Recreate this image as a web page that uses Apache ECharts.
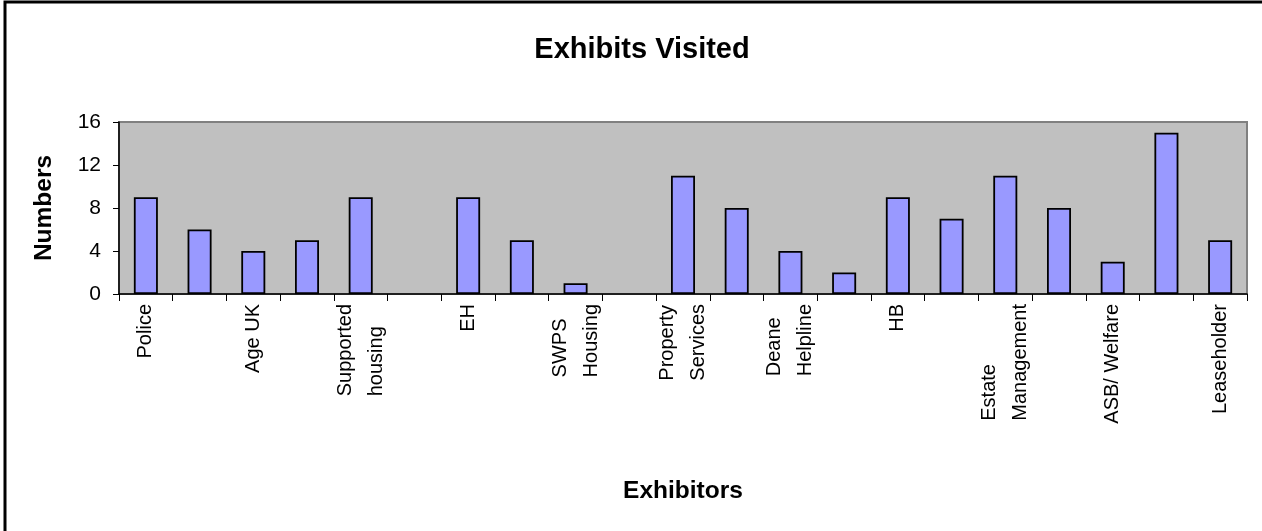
<!DOCTYPE html>
<html>
<head>
<meta charset="utf-8">
<script src="https://cdn.jsdelivr.net/npm/echarts@6/dist/echarts.min.js"></script>
<style>html,body{margin:0;padding:0;background:#fff;}#c{width:1262px;height:531px;}</style>
</head>
<body>
<div id="c"></div>
<script>
const titleText = 'Exhibits Visited';
const yAxisTitle = 'Numbers';
const xAxisTitle = 'Exhibitors';
const categories = ['Police', '', 'Age UK', '', 'Supported\nhousing', '', 'EH', '', 'SWPS\nHousing', '',
  'Property\nServices', '', 'Deane\nHelpline', '', 'HB', '', 'Estate\nManagement', '', 'ASB/ Welfare', '', 'Leaseholder'];
const values = [9, 6, 4, 5, 9, null, 9, 5, 1, null, 11, 8, 4, 2, 9, 7, 11, 8, 3, 15, 5];
const yTicks = [0, 4, 8, 12, 16];

const FONT = "'Liberation Sans', Arial, sans-serif";
const chart = echarts.init(document.getElementById('c'), null, {renderer: 'canvas'});
chart.setOption({
  animation: false,
  backgroundColor: '#fff',
  title: {
    text: titleText, left: 637, top: 30, textAlign: 'center',
    textStyle: {fontFamily: FONT, fontSize: 29, fontWeight: 'bold', color: '#000'}
  },
  graphic: [{
    type: 'rect', shape: {x: 5, y: 2, width: 1300, height: 600},
    style: {fill: 'none', stroke: '#000', lineWidth: 3}, silent: true, z: 100
  }],
  grid: {
    left: 119, right: 15, top: 122, bottom: 237,
    show: true, backgroundColor: '#C0C0C0', borderColor: '#808080', borderWidth: 2
  },
  xAxis: {
    type: 'category', data: categories, boundaryGap: true,
    name: xAxisTitle, nameLocation: 'middle', nameGap: 185,
    nameTextStyle: {fontFamily: FONT, fontSize: 24.5, fontWeight: 'bold', color: '#000'},
    axisLine: {show: true, lineStyle: {color: '#000', width: 1.5}},
    axisTick: {show: true, interval: 0, length: 7, lineStyle: {color: '#000', width: 1}},
    axisLabel: {
      interval: 1, rotate: 90, margin: 10, color: '#000',
      fontFamily: FONT, fontSize: 20, lineHeight: 31,
      formatter: v => v.split('\n').map(s => '{a|' + s + '}').join('\n'),
      rich: {a: {fontFamily: FONT, fontSize: 20, lineHeight: 31, align: 'left', color: '#000'}}
    },
    splitLine: {show: false}
  },
  yAxis: {
    type: 'value', min: yTicks[0], max: yTicks[yTicks.length - 1], interval: 4,
    name: yAxisTitle, nameLocation: 'middle', nameGap: 62, nameRotate: 90,
    nameTextStyle: {fontFamily: FONT, fontSize: 24.5, fontWeight: 'bold', color: '#000'},
    axisLine: {show: true, lineStyle: {color: '#000', width: 1.5}},
    axisTick: {show: true, length: 6, lineStyle: {color: '#000', width: 1}},
    axisLabel: {margin: 18, color: '#000', fontFamily: FONT, fontSize: 21},
    splitLine: {show: false}
  },
  series: [{
    type: 'bar', data: values, barWidth: 24,
    itemStyle: {color: '#9999FF', borderColor: '#000', borderWidth: 1.8}
  }]
});
</script>
</body>
</html>
